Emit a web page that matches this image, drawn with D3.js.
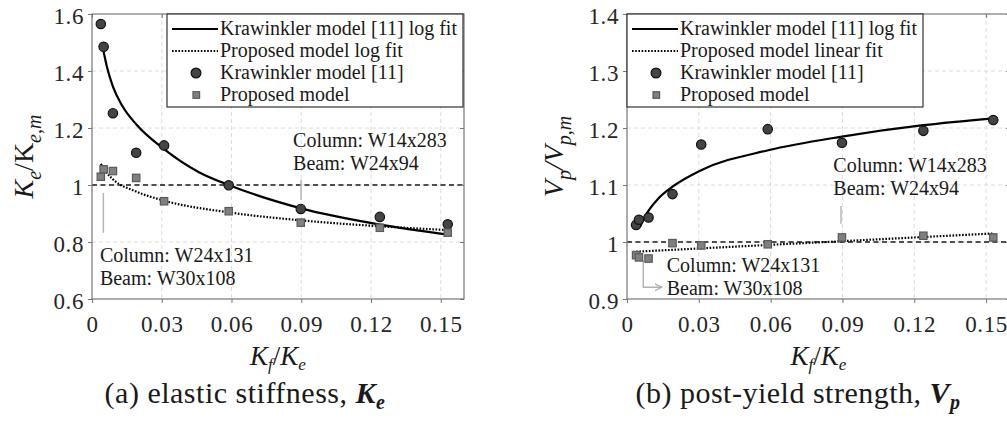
<!DOCTYPE html>
<html>
<head>
<meta charset="utf-8">
<script src="https://cdn.jsdelivr.net/npm/d3@7"></script>
<style>
  body { margin: 0; background: #fff; }
  svg { display: block; }
  text { font-family: "Liberation Serif", "Times New Roman", serif; }
</style>
</head>
<body>
<svg id="chart" width="1007" height="421"></svg>
<script>
// shared x values, K_f / K_e
const kfRatio = [0.0038, 0.005, 0.009, 0.019, 0.031, 0.0588, 0.0898, 0.1238, 0.153];
const xTicks = [0, 0.03, 0.06, 0.09, 0.12, 0.15];

// (a) elastic stiffness  K_e / K_e,m
const keKraw = [1.565, 1.485, 1.252, 1.113, 1.139, 0.999, 0.916, 0.888, 0.862];
const keProp = [1.029, 1.055, 1.049, 1.025, 0.943, 0.908, 0.868, 0.850, 0.833];
const keKrawFitX = [0.005, 0.0065, 0.009, 0.013, 0.019, 0.031, 0.046, 0.0588, 0.0899, 0.124, 0.153];
const keKrawFitY = [1.468, 1.412, 1.345, 1.278, 1.213, 1.126, 1.045, 1.0, 0.918, 0.861, 0.826];
const kePropFitX = [0.0038, 0.006, 0.009, 0.019, 0.031, 0.0588, 0.0899, 0.124, 0.153];
const kePropFitY = [1.074, 1.046, 1.020, 0.977, 0.945, 0.904, 0.876, 0.855, 0.842];
const keTicks = [0.6, 0.8, 1, 1.2, 1.4, 1.6];

// (b) post-yield strength  V_p / V_p,m
const vpKraw = [1.030, 1.039, 1.043, 1.084, 1.171, 1.198, 1.174, 1.195, 1.214];
const vpProp = [0.977, 0.973, 0.971, 0.998, 0.994, 0.996, 1.008, 1.011, 1.008];
const vpKrawFitX = [0.0054, 0.007, 0.009, 0.013, 0.019, 0.031, 0.059, 0.0898, 0.1238, 0.153];
const vpKrawFitY = [1.026, 1.041, 1.055, 1.076, 1.097, 1.126, 1.161, 1.185, 1.205, 1.217];
const vpPropFitX = [0.0038, 0.153];
const vpPropFitY = [0.983, 1.015];
const vpTicks = [0.9, 1, 1.1, 1.2, 1.3, 1.4];

const legendA = ["Krawinkler model [11] log fit", "Proposed model log fit", "Krawinkler model [11]", "Proposed model"];
const legendB = ["Krawinkler model [11] log fit", "Proposed model linear fit", "Krawinkler model [11]", "Proposed model"];

const svg = d3.select("#chart");
const ink = "#1a1a1a";
const axisGrey = "#777";

svg.append("defs").append("marker")
    .attr("id", "arrow")
    .attr("viewBox", "0 0 8 8")
    .attr("refX", 7).attr("refY", 4)
    .attr("markerWidth", 8).attr("markerHeight", 8)
    .attr("markerUnits", "userSpaceOnUse")
    .attr("orient", "auto")
  .append("path")
    .attr("d", "M0,0.5 L7,4 L0,7.5")
    .attr("fill", "none")
    .attr("stroke", "#aaa")
    .attr("stroke-width", 1.2);

function drawPanel(p) {
  const x = d3.scaleLinear().domain([0, 0.16]).range([p.left, p.right]);
  const y = d3.scaleLinear().domain([p.yTicks[0], p.yTicks[p.yTicks.length - 1]]).range([p.bottom, p.top]);
  const g = svg.append("g");

  // grid
  g.append("g").selectAll("line").data(xTicks.slice(1)).join("line")
      .attr("x1", d => x(d)).attr("x2", d => x(d))
      .attr("y1", p.top).attr("y2", p.bottom)
      .attr("stroke", "#dcdcdc").attr("stroke-dasharray", "4,3");
  g.append("g").selectAll("line").data(p.yTicks.slice(1, -1)).join("line")
      .attr("x1", p.left).attr("x2", p.right)
      .attr("y1", d => y(d)).attr("y2", d => y(d))
      .attr("stroke", "#dcdcdc").attr("stroke-dasharray", "4,3");

  // reference line at 1
  g.append("line")
      .attr("x1", p.left).attr("x2", p.right)
      .attr("y1", y(1)).attr("y2", y(1))
      .attr("stroke", ink).attr("stroke-width", 1.6).attr("stroke-dasharray", "5,3.5");

  // annotations
  p.notes.forEach(n => {
    const t = g.append("text")
        .attr("font-size", 20).attr("fill", ink);
    n.lines.forEach((s, i) => {
      t.append("tspan").attr("x", x(n.tx)).attr("y", y(n.ty) + i * 23).text(s);
    });
    const leader = g.append("path")
        .attr("d", d3.line().x(d => x(d[0])).y(d => y(d[1]))(n.leader))
        .attr("fill", "none").attr("stroke", "#b3b3b3").attr("stroke-width", 1.4);
    if (n.arrow) leader.attr("marker-end", "url(#arrow)");
  });

  // fits
  const line = d3.line().x(d => x(d[0])).y(d => y(d[1])).curve(d3.curveMonotoneX);
  g.append("path").datum(d3.zip(p.kFitX, p.kFitY))
      .attr("d", line).attr("fill", "none")
      .attr("stroke", "#000").attr("stroke-width", 2.2);
  g.append("path").datum(d3.zip(p.pFitX, p.pFitY))
      .attr("d", line).attr("fill", "none")
      .attr("stroke", "#000").attr("stroke-width", 2.2).attr("stroke-dasharray", "1.6,1.6");

  // markers
  g.append("g").selectAll("circle").data(d3.zip(kfRatio, p.kraw)).join("circle")
      .attr("cx", d => x(d[0])).attr("cy", d => y(d[1])).attr("r", 4.7)
      .attr("fill", "#444").attr("stroke", "#111").attr("stroke-width", 1.2);
  g.append("g").selectAll("rect").data(d3.zip(kfRatio, p.prop)).join("rect")
      .attr("x", d => x(d[0]) - 3.7).attr("y", d => y(d[1]) - 3.7)
      .attr("width", 7.4).attr("height", 7.4)
      .attr("fill", "#808080").attr("stroke", "#5a5a5a").attr("stroke-width", 1.2);

  // axes
  const styleAxis = a => {
    a.attr("font-family", null).attr("font-size", 23);
    a.select(".domain").remove();
    a.selectAll("line").attr("stroke", axisGrey);
    a.selectAll("text").attr("fill", "#262626").style("letter-spacing", "0.6px");
  };
  g.append("g").attr("transform", `translate(${p.left},0)`)
      .call(d3.axisLeft(y).tickValues(p.yTicks).tickFormat(String).tickSize(4).tickPadding(4))
      .call(styleAxis)
      .call(a => a.selectAll("text").attr("dy", "0.4em"));
  g.append("g").attr("transform", `translate(0,${p.bottom})`)
      .call(d3.axisBottom(x).tickValues(xTicks).tickFormat(String).tickSize(4))
      .call(styleAxis)
      .call(a => a.selectAll("text").attr("y", 33).attr("dy", null));
  g.append("g").attr("transform", `translate(${p.right},0)`)
      .call(d3.axisLeft(y).tickValues(p.yTicks).tickFormat("").tickSize(4))
      .call(styleAxis);
  g.append("g").attr("transform", `translate(0,${p.top})`)
      .call(d3.axisBottom(x).tickValues(xTicks).tickFormat("").tickSize(4))
      .call(styleAxis);
  g.append("rect")
      .attr("x", p.left).attr("y", p.top)
      .attr("width", p.right - p.left).attr("height", p.bottom - p.top)
      .attr("fill", "none").attr("stroke", axisGrey).attr("stroke-width", 1.2);

  // legend
  const lg = g.append("g").attr("transform", `translate(${p.legendX},${p.top})`);
  lg.append("rect").attr("width", 296).attr("height", 93)
      .attr("fill", "#fff").attr("stroke", "#333").attr("stroke-width", 1.2);
  const rows = lg.selectAll("g.row").data(p.legend).join("g")
      .attr("class", "row")
      .attr("transform", (d, i) => `translate(0,${15 + i * 22})`);
  rows.filter((d, i) => i < 2).append("line")
      .attr("x1", 5).attr("x2", 51).attr("y1", 0).attr("y2", 0)
      .attr("stroke", "#000").attr("stroke-width", 2.2)
      .attr("stroke-dasharray", (d, i) => i === 1 ? "1.6,1.6" : null);
  rows.filter((d, i) => i === 2).append("circle")
      .attr("cx", 29).attr("cy", 0).attr("r", 4.9)
      .attr("fill", "#444").attr("stroke", "#111").attr("stroke-width", 1.2);
  rows.filter((d, i) => i === 3).append("rect")
      .attr("x", 26).attr("y", -3.3).attr("width", 6.6).attr("height", 6.6)
      .attr("fill", "#808080").attr("stroke", "#5a5a5a").attr("stroke-width", 1.2);
  rows.append("text")
      .attr("x", 53).attr("y", 6)
      .attr("font-size", 20).attr("fill", ink)
      .text(d => d);

  // x label  K_f / K_e
  const xl = svg.append("text")
      .attr("x", (p.left + p.right) / 2).attr("y", 365)
      .attr("text-anchor", "middle")
      .attr("font-size", 27).attr("font-style", "italic").attr("fill", ink);
  xl.append("tspan").text("K");
  xl.append("tspan").attr("font-size", 17).attr("dy", 5).text("f");
  xl.append("tspan").attr("dy", -5).attr("font-style", "normal").text("/");
  xl.append("tspan").text("K");
  xl.append("tspan").attr("font-size", 17).attr("dy", 5).text("e");

  // y label
  const yl = svg.append("text")
      .attr("transform", `translate(${p.yLabelX},${(p.top + p.bottom) / 2}) rotate(-90)`)
      .attr("text-anchor", "middle")
      .attr("font-size", 28).attr("font-style", "italic").attr("fill", ink);
  p.yLabel.forEach(part => {
    const ts = yl.append("tspan").text(part.t);
    if (part.sub) ts.attr("font-size", 20);
    if (part.dy) ts.attr("dy", part.dy);
    if (part.upright) ts.attr("font-style", "normal");
  });

  // caption
  const cap = svg.append("text")
      .attr("x", p.captionX).attr("y", 403)
      .attr("text-anchor", "middle")
      .attr("font-size", 30).attr("fill", ink)
      .style("letter-spacing", "0.5px");
  cap.append("tspan").text(p.caption);
  cap.append("tspan").attr("font-style", "italic").attr("font-weight", "bold").text(p.capSym);
  cap.append("tspan").attr("font-style", "italic").attr("font-weight", "bold")
      .attr("font-size", 20).attr("dy", 6).text(p.capSub);
}

drawPanel({
  left: 92, right: 464, top: 14, bottom: 299,
  yTicks: keTicks,
  kraw: keKraw, prop: keProp,
  kFitX: keKrawFitX, kFitY: keKrawFitY,
  pFitX: kePropFitX, pFitY: kePropFitY,
  legend: legendA, legendX: 167,
  notes: [
    { lines: ["Column: W14x283", "Beam: W24x94"], tx: 0.0865, ty: 1.134,
      leader: [[0.0899, 1.018], [0.0899, 0.947]] },
    { lines: ["Column: W24x131", "Beam: W30x108"], tx: 0.0034, ty: 0.730,
      leader: [[0.0049, 0.972], [0.0049, 0.832]] }
  ],
  yLabelX: 33,
  yLabel: [{ t: "K" }, { t: "e", sub: true, dy: 8 }, { t: "/", dy: -8, upright: true },
           { t: "K", upright: true }, { t: "e,m", sub: true, dy: 8 }],
  caption: "(a) elastic stiffness, ", capSym: "K", capSub: "e", captionX: 245
});

drawPanel({
  left: 627, right: 1010, top: 14, bottom: 299,
  yTicks: vpTicks,
  kraw: vpKraw, prop: vpProp,
  kFitX: vpKrawFitX, kFitY: vpKrawFitY,
  pFitX: vpPropFitX, pFitY: vpPropFitY,
  legend: legendB, legendX: 627,
  notes: [
    { lines: ["Column: W14x283", "Beam: W24x94"], tx: 0.0862, ty: 1.123,
      leader: [[0.0894, 1.063], [0.0894, 1.032]] },
    { lines: ["Column: W24x131", "Beam: W30x108"], tx: 0.0166, ty: 0.948,
      leader: [[0.0068, 0.968], [0.0068, 0.9205], [0.0145, 0.9205]], arrow: true }
  ],
  yLabelX: 563,
  yLabel: [{ t: "V" }, { t: "p", sub: true, dy: 8 }, { t: "/", dy: -8 },
           { t: "V" }, { t: "p,m", sub: true, dy: 8 }],
  caption: "(b) post-yield strength, ", capSym: "V", capSub: "p", captionX: 798
});
</script>
</body>
</html>
